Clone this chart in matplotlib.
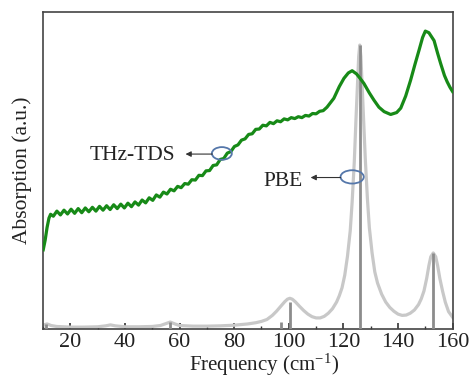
import matplotlib
matplotlib.use("Agg")
import matplotlib.pyplot as plt
from matplotlib.patches import Ellipse
from matplotlib.ticker import MultipleLocator

plt.rcParams['font.family'] = ['Liberation Serif', 'DejaVu Serif']
plt.rcParams['mathtext.fontset'] = 'custom'
plt.rcParams['mathtext.rm'] = 'Liberation Serif'
plt.rcParams['mathtext.it'] = 'Liberation Serif:italic'

# THz-TDS measured spectrum (frequency, absorption a.u.)
thz_freq = [10.1, 10.8, 11.5, 12.2, 12.8, 13.8, 15.1, 16.4, 17.7, 19.0, 20.3, 21.6, 22.9, 24.2,
            25.5, 26.8, 28.1, 29.4, 30.7, 32.0, 33.3, 34.6, 35.9, 37.2, 38.5, 39.8, 41.1, 42.4,
            43.7, 45.0, 46.3, 47.6, 48.9, 50.2, 51.5, 52.8, 54.1, 55.4, 56.7, 58.0, 59.3, 60.6,
            61.9, 63.2, 64.5, 65.8, 67.1, 68.4, 69.7, 71.0, 72.3, 73.6, 74.9, 76.2, 77.5, 78.8,
            80.1, 81.4, 82.7, 84.0, 85.3, 86.6, 87.9, 89.2, 90.5, 91.8, 93.1, 94.4, 95.7, 97.0,
            98.3, 99.6, 100.9, 102.2, 103.5, 104.8, 106.1, 107.4, 108.7, 110.0, 111.3, 112.6,
            114.0, 116.5, 118.5, 120.2, 121.8, 123.2, 124.8, 126.2, 127.5, 129.5, 131.2, 133.0,
            134.9, 137.3, 139.5, 141.0, 142.8, 144.6, 146.2, 147.7, 149.0, 150.0, 151.3, 153.2,
            154.5, 155.6, 157.0, 158.0, 159.0, 160.0]
thz_abs = [0.250, 0.280, 0.320, 0.350, 0.362, 0.356, 0.372, 0.360, 0.375, 0.363, 0.378, 0.365,
           0.380, 0.367, 0.382, 0.370, 0.384, 0.372, 0.387, 0.375, 0.389, 0.377, 0.392, 0.380,
           0.394, 0.382, 0.397, 0.386, 0.401, 0.391, 0.407, 0.398, 0.414, 0.406, 0.423, 0.416,
           0.432, 0.426, 0.441, 0.436, 0.450, 0.446, 0.459, 0.457, 0.471, 0.470, 0.485, 0.484,
           0.499, 0.500, 0.516, 0.518, 0.535, 0.538, 0.555, 0.560, 0.576, 0.581, 0.596, 0.600,
           0.614, 0.616, 0.630, 0.631, 0.643, 0.641, 0.652, 0.648, 0.657, 0.654, 0.663, 0.660,
           0.667, 0.664, 0.670, 0.667, 0.674, 0.672, 0.680, 0.679, 0.687, 0.689,
           0.700, 0.728, 0.765, 0.791, 0.808, 0.815, 0.805, 0.790, 0.775, 0.745, 0.722, 0.700,
           0.686, 0.677, 0.683, 0.697, 0.735, 0.785, 0.835, 0.880, 0.920, 0.940, 0.935, 0.910,
           0.870, 0.838, 0.800, 0.780, 0.763, 0.749]

# PBE broadened spectrum (frequency, absorption a.u.)
pbe_freq = [10, 11.5, 13, 15, 20, 25, 30, 33, 34.7, 36.5, 40, 45, 50, 53, 55, 56.6, 58, 60, 65,
            70, 75, 80, 85, 88, 90, 92, 94, 95.5, 97, 98.5, 99.5, 100.4, 101.3, 102.5, 104,
            105.5, 107, 108.5, 110, 111.5, 113, 114.5, 116, 117.5, 118.5, 119.5, 120.5, 121.5,
            122.5, 123.2, 124, 124.6, 125.2, 125.6, 126, 126.4, 126.8, 127.4, 128, 128.8, 129.5,
            130.5, 131.5, 132.5, 134, 135.5, 137, 138.5, 140, 141.5, 143, 144.5, 146, 147.5,
            148.5, 149.5, 150.5, 151.3, 152, 152.9, 153.8, 154.5, 155.3, 156.3, 157.3, 158.5, 160]
pbe_abs = [0.012, 0.016, 0.011, 0.008, 0.006, 0.006, 0.007, 0.010, 0.013, 0.010, 0.007, 0.007,
           0.008, 0.011, 0.017, 0.022, 0.017, 0.011, 0.009, 0.009, 0.010, 0.012, 0.016, 0.020,
           0.024, 0.030, 0.043, 0.056, 0.071, 0.086, 0.094, 0.097, 0.094, 0.085, 0.071, 0.058,
           0.047, 0.039, 0.035, 0.035, 0.040, 0.050, 0.064, 0.085, 0.105, 0.130, 0.170, 0.230,
           0.310, 0.400, 0.530, 0.660, 0.780, 0.860, 0.896, 0.860, 0.780, 0.660, 0.540, 0.410,
           0.320, 0.240, 0.180, 0.145, 0.110, 0.085, 0.068, 0.056, 0.047, 0.043, 0.044, 0.050,
           0.060, 0.077, 0.095, 0.120, 0.160, 0.200, 0.228, 0.240, 0.228, 0.200, 0.160, 0.120,
           0.085, 0.055, 0.037]

# PBE normal mode sticks
stick_freq = [11.2, 56.6, 97.0, 100.4, 126.0, 152.9]
stick_int = [0.016, 0.022, 0.021, 0.086, 0.896, 0.240]

xticks = [20, 40, 60, 80, 100, 120, 140, 160]

fig = plt.figure(figsize=(4.72, 3.78), dpi=100)
ax = fig.add_axes([0.091, 0.1296, 0.868, 0.8384])

ax.plot(pbe_freq, pbe_abs, color='#c8c8c8', lw=2.3, zorder=2, solid_joinstyle='round')
ax.vlines(stick_freq, 0, stick_int, color='#8c8c8c', lw=2.0, zorder=3)
ax.plot(thz_freq, thz_abs, color='#178a17', lw=2.3, zorder=4, solid_joinstyle='round')

ax.set_xlim(10, 160)
ax.set_ylim(0, 1)
ax.set_xticks(xticks)
ax.xaxis.set_minor_locator(MultipleLocator(10))
ax.set_yticks([])
ax.tick_params(axis='x', which='major', direction='in', length=4, width=1.2,
               colors='#333333', labelsize=16, labelcolor='#222222', pad=3)
ax.tick_params(axis='x', which='minor', direction='in', length=2.5, width=1.0, colors='#333333')
for s in ax.spines.values():
    s.set_color('#444444')
    s.set_linewidth(1.2)

ax.set_xlabel(r'Frequency (cm$^{\mathregular{-1}}$)', fontsize=15, color='#222222')
ax.xaxis.set_label_coords(0.54, -0.072)
ax.set_ylabel('Absorption (a.u.)', fontsize=15.5, color='#222222', labelpad=8)

# annotations
ax.add_patch(Ellipse((75.5, 0.554), 7.3, 0.040, fill=False, ec='#5577aa', lw=1.3, zorder=5))
ax.add_patch(Ellipse((123.2, 0.480), 8.5, 0.042, fill=False, ec='#5577aa', lw=1.3, zorder=5))
ax.annotate('', xy=(62.2, 0.552), xytext=(72.0, 0.552),
            arrowprops=dict(arrowstyle='-|>', color='#333333', lw=0.8,
                            mutation_scale=8, shrinkA=0, shrinkB=0), zorder=5)
ax.annotate('', xy=(108.0, 0.478), xytext=(119.0, 0.478),
            arrowprops=dict(arrowstyle='-|>', color='#333333', lw=0.8,
                            mutation_scale=8, shrinkA=0, shrinkB=0), zorder=5)
ax.text(58.6, 0.549, 'THz-TDS', ha='right', va='center', fontsize=15.5, color='#222222')
ax.text(105.0, 0.464, 'PBE', ha='right', va='center', fontsize=15.5, color='#222222')

fig.savefig('out.png', dpi=100)
